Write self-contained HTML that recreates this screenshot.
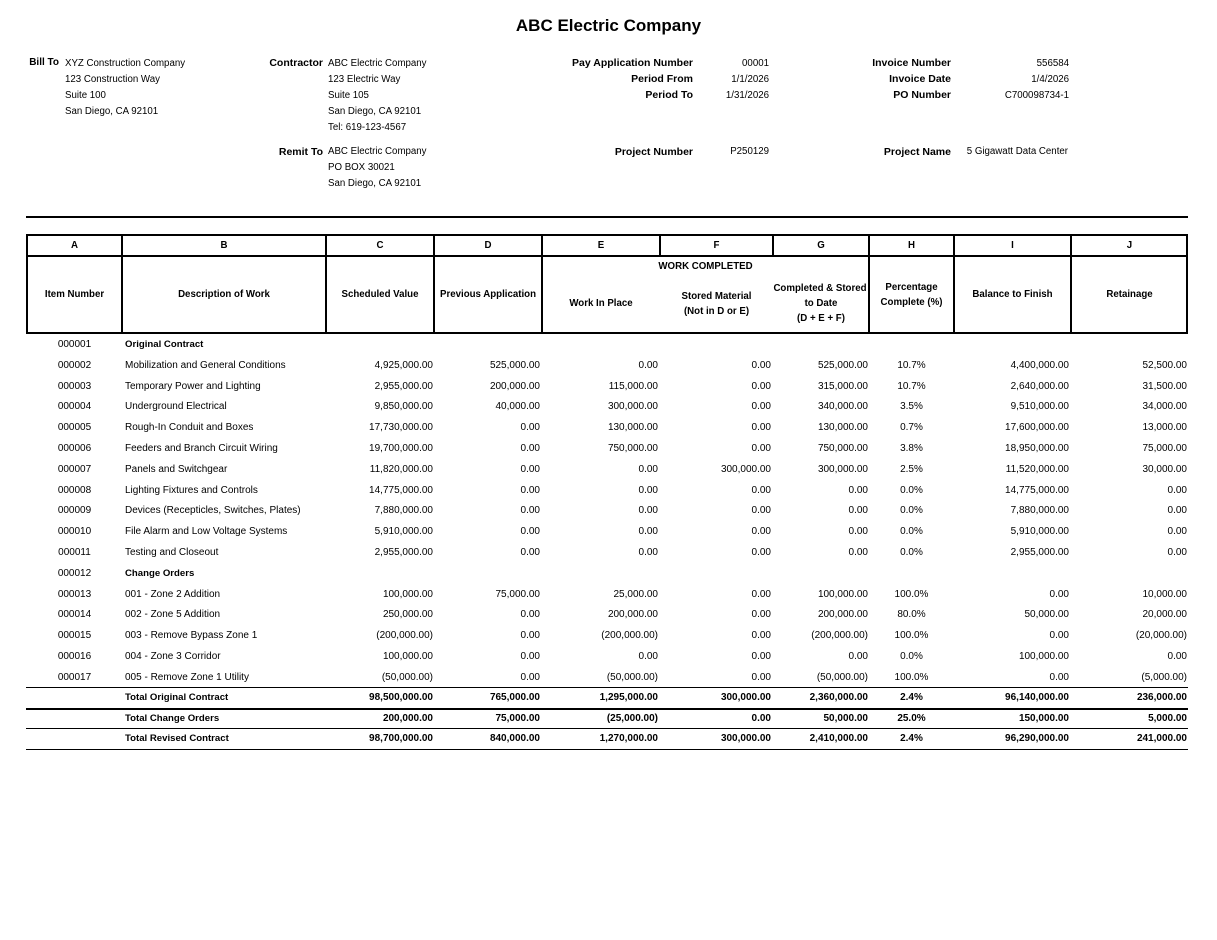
<!DOCTYPE html>
<html>
<head>
<meta charset="utf-8">
<style>
*{margin:0;padding:0;box-sizing:border-box;}
html,body{width:1217px;height:940px;background:#fff;overflow:hidden;}
body{position:relative;font-family:"Liberation Sans",Arial,sans-serif;color:#000;font-size:10px;}
.t{position:absolute;white-space:nowrap;line-height:14px;height:14px;}
.lb{font-weight:bold;font-size:10.5px;text-align:right;}
.hv{font-size:9.7px;}
.ln{position:absolute;background:#000;}
.r{position:absolute;left:0;width:1217px;height:14px;line-height:14px;}
.r span{position:absolute;top:0;white-space:nowrap;}
.a{left:27px;width:95px;text-align:center;}
.b{left:125px;}
.c{left:320px;width:113px;text-align:right;}
.d{left:430px;width:110px;text-align:right;}
.e{left:545px;width:113px;text-align:right;}
.f{left:662px;width:109px;text-align:right;}
.g{left:775px;width:93px;text-align:right;}
.h{left:869px;width:85px;text-align:center;}
.i{left:956px;width:113px;text-align:right;}
.j{left:1073px;width:114px;text-align:right;}
.bold span{font-weight:bold;}
.bold .b{font-size:9.6px;}
.hd{position:absolute;font-weight:bold;font-size:9.7px;text-align:center;line-height:15px;white-space:nowrap;}
</style>
</head>
<body>

<div class="t" style="left:0;width:1217px;top:15px;height:22px;line-height:22px;text-align:center;font-size:17px;font-weight:bold;">ABC Electric Company</div>

<!-- Bill To -->
<div class="t lb" style="left:0;width:59px;top:56px;font-size:10px;">Bill To</div>
<div class="t hv" style="left:65px;top:57px;">XYZ Construction Company</div>
<div class="t hv" style="left:65px;top:73px;">123 Construction Way</div>
<div class="t hv" style="left:65px;top:89px;">Suite 100</div>
<div class="t hv" style="left:65px;top:105px;">San Diego, CA 92101</div>

<!-- Contractor -->
<div class="t lb" style="left:200px;width:123px;top:56px;">Contractor</div>
<div class="t hv" style="left:328px;top:57px;">ABC Electric Company</div>
<div class="t hv" style="left:328px;top:73px;">123 Electric Way</div>
<div class="t hv" style="left:328px;top:89px;">Suite 105</div>
<div class="t hv" style="left:328px;top:105px;">San Diego, CA 92101</div>
<div class="t hv" style="left:328px;top:121px;">Tel: 619-123-4567</div>

<div class="t lb" style="left:200px;width:123px;top:145px;">Remit To</div>
<div class="t hv" style="left:328px;top:145px;">ABC Electric Company</div>
<div class="t hv" style="left:328px;top:161px;">PO BOX 30021</div>
<div class="t hv" style="left:328px;top:177px;">San Diego, CA 92101</div>

<!-- Pay app -->
<div class="t lb" style="left:500px;width:193px;top:56px;">Pay Application Number</div>
<div class="t lb" style="left:500px;width:193px;top:72px;">Period From</div>
<div class="t lb" style="left:500px;width:193px;top:88px;">Period To</div>
<div class="t hv" style="left:690px;width:79px;text-align:right;top:57px;">00001</div>
<div class="t hv" style="left:690px;width:79px;text-align:right;top:73px;">1/1/2026</div>
<div class="t hv" style="left:690px;width:79px;text-align:right;top:89px;">1/31/2026</div>

<div class="t lb" style="left:500px;width:193px;top:145px;">Project Number</div>
<div class="t hv" style="left:690px;width:79px;text-align:right;top:145px;">P250129</div>

<!-- Invoice -->
<div class="t lb" style="left:800px;width:151px;top:56px;">Invoice Number</div>
<div class="t lb" style="left:800px;width:151px;top:72px;">Invoice Date</div>
<div class="t lb" style="left:800px;width:151px;top:88px;">PO Number</div>
<div class="t hv" style="left:960px;width:109px;text-align:right;top:57px;">556584</div>
<div class="t hv" style="left:960px;width:109px;text-align:right;top:73px;">1/4/2026</div>
<div class="t hv" style="left:960px;width:109px;text-align:right;top:89px;">C700098734-1</div>

<div class="t lb" style="left:800px;width:151px;top:145px;">Project Name</div>
<div class="t hv" style="left:955px;width:113px;text-align:right;top:145px;">5 Gigawatt Data Center</div>

<!-- top rule -->
<div class="ln" style="left:26px;top:216px;width:1162px;height:2px;"></div>

<!-- header box -->
<div style="position:absolute;left:26px;top:234px;width:1162px;height:100px;border:2px solid #000;"></div>
<div class="ln" style="left:26px;top:255px;width:1162px;height:2px;"></div>
<div class="ln" style="left:121px;top:234px;width:2px;height:100px;"></div>
<div class="ln" style="left:325px;top:234px;width:2px;height:100px;"></div>
<div class="ln" style="left:433px;top:234px;width:2px;height:100px;"></div>
<div class="ln" style="left:541px;top:234px;width:2px;height:100px;"></div>
<div class="ln" style="left:659px;top:234px;width:2px;height:22px;"></div>
<div class="ln" style="left:772px;top:234px;width:2px;height:22px;"></div>
<div class="ln" style="left:868px;top:234px;width:2px;height:100px;"></div>
<div class="ln" style="left:953px;top:234px;width:2px;height:100px;"></div>
<div class="ln" style="left:1070px;top:234px;width:2px;height:100px;"></div>

<!-- header row 1 letters -->
<div class="hd" style="left:27px;width:95px;top:238px;">A</div>
<div class="hd" style="left:122px;width:204px;top:238px;">B</div>
<div class="hd" style="left:326px;width:108px;top:238px;">C</div>
<div class="hd" style="left:434px;width:108px;top:238px;">D</div>
<div class="hd" style="left:542px;width:118px;top:238px;">E</div>
<div class="hd" style="left:660px;width:113px;top:238px;">F</div>
<div class="hd" style="left:773px;width:96px;top:238px;">G</div>
<div class="hd" style="left:869px;width:85px;top:238px;">H</div>
<div class="hd" style="left:954px;width:117px;top:238px;">I</div>
<div class="hd" style="left:1071px;width:117px;top:238px;">J</div>

<!-- header row 2 -->
<div class="hd" style="left:27px;width:95px;top:287px;">Item Number</div>
<div class="hd" style="left:122px;width:204px;top:287px;">Description of Work</div>
<div class="hd" style="left:326px;width:108px;top:287px;">Scheduled Value</div>
<div class="hd" style="left:434px;width:108px;top:287px;">Previous Application</div>
<div class="hd" style="left:542px;width:327px;top:259px;">WORK COMPLETED</div>
<div class="hd" style="left:542px;width:118px;top:296px;">Work In Place</div>
<div class="hd" style="left:660px;width:113px;top:289px;">Stored Material</div>
<div class="hd" style="left:660px;width:113px;top:304px;">(Not in D or E)</div>
<div class="hd" style="left:771px;width:98px;top:281px;">Completed &amp; Stored</div>
<div class="hd" style="left:773px;width:96px;top:296px;">to Date</div>
<div class="hd" style="left:773px;width:96px;top:311px;">(D + E + F)</div>
<div class="hd" style="left:869px;width:85px;top:280px;">Percentage</div>
<div class="hd" style="left:869px;width:85px;top:295px;">Complete (%)</div>
<div class="hd" style="left:954px;width:117px;top:287px;">Balance to Finish</div>
<div class="hd" style="left:1071px;width:117px;top:287px;">Retainage</div>

<!-- data rows -->
<div class="r" style="top:338px;"><span class="a">000001</span><span class="b" style="font-weight:bold;font-size:9.6px;">Original Contract</span></div>

<div class="r" style="top:359px;"><span class="a">000002</span><span class="b">Mobilization and General Conditions</span><span class="c">4,925,000.00</span><span class="d">525,000.00</span><span class="e">0.00</span><span class="f">0.00</span><span class="g">525,000.00</span><span class="h">10.7%</span><span class="i">4,400,000.00</span><span class="j">52,500.00</span></div>

<div class="r" style="top:380px;"><span class="a">000003</span><span class="b">Temporary Power and Lighting</span><span class="c">2,955,000.00</span><span class="d">200,000.00</span><span class="e">115,000.00</span><span class="f">0.00</span><span class="g">315,000.00</span><span class="h">10.7%</span><span class="i">2,640,000.00</span><span class="j">31,500.00</span></div>

<div class="r" style="top:400px;"><span class="a">000004</span><span class="b">Underground Electrical</span><span class="c">9,850,000.00</span><span class="d">40,000.00</span><span class="e">300,000.00</span><span class="f">0.00</span><span class="g">340,000.00</span><span class="h">3.5%</span><span class="i">9,510,000.00</span><span class="j">34,000.00</span></div>

<div class="r" style="top:421px;"><span class="a">000005</span><span class="b">Rough-In Conduit and Boxes</span><span class="c">17,730,000.00</span><span class="d">0.00</span><span class="e">130,000.00</span><span class="f">0.00</span><span class="g">130,000.00</span><span class="h">0.7%</span><span class="i">17,600,000.00</span><span class="j">13,000.00</span></div>

<div class="r" style="top:442px;"><span class="a">000006</span><span class="b">Feeders and Branch Circuit Wiring</span><span class="c">19,700,000.00</span><span class="d">0.00</span><span class="e">750,000.00</span><span class="f">0.00</span><span class="g">750,000.00</span><span class="h">3.8%</span><span class="i">18,950,000.00</span><span class="j">75,000.00</span></div>

<div class="r" style="top:463px;"><span class="a">000007</span><span class="b">Panels and Switchgear</span><span class="c">11,820,000.00</span><span class="d">0.00</span><span class="e">0.00</span><span class="f">300,000.00</span><span class="g">300,000.00</span><span class="h">2.5%</span><span class="i">11,520,000.00</span><span class="j">30,000.00</span></div>

<div class="r" style="top:484px;"><span class="a">000008</span><span class="b">Lighting Fixtures and Controls</span><span class="c">14,775,000.00</span><span class="d">0.00</span><span class="e">0.00</span><span class="f">0.00</span><span class="g">0.00</span><span class="h">0.0%</span><span class="i">14,775,000.00</span><span class="j">0.00</span></div>

<div class="r" style="top:504px;"><span class="a">000009</span><span class="b">Devices (Recepticles, Switches, Plates)</span><span class="c">7,880,000.00</span><span class="d">0.00</span><span class="e">0.00</span><span class="f">0.00</span><span class="g">0.00</span><span class="h">0.0%</span><span class="i">7,880,000.00</span><span class="j">0.00</span></div>

<div class="r" style="top:525px;"><span class="a">000010</span><span class="b">File Alarm and Low Voltage Systems</span><span class="c">5,910,000.00</span><span class="d">0.00</span><span class="e">0.00</span><span class="f">0.00</span><span class="g">0.00</span><span class="h">0.0%</span><span class="i">5,910,000.00</span><span class="j">0.00</span></div>

<div class="r" style="top:546px;"><span class="a">000011</span><span class="b">Testing and Closeout</span><span class="c">2,955,000.00</span><span class="d">0.00</span><span class="e">0.00</span><span class="f">0.00</span><span class="g">0.00</span><span class="h">0.0%</span><span class="i">2,955,000.00</span><span class="j">0.00</span></div>

<div class="r" style="top:567px;"><span class="a">000012</span><span class="b" style="font-weight:bold;font-size:9.6px;">Change Orders</span></div>

<div class="r" style="top:588px;"><span class="a">000013</span><span class="b">001 - Zone 2 Addition</span><span class="c">100,000.00</span><span class="d">75,000.00</span><span class="e">25,000.00</span><span class="f">0.00</span><span class="g">100,000.00</span><span class="h">100.0%</span><span class="i">0.00</span><span class="j">10,000.00</span></div>

<div class="r" style="top:608px;"><span class="a">000014</span><span class="b">002 - Zone 5 Addition</span><span class="c">250,000.00</span><span class="d">0.00</span><span class="e">200,000.00</span><span class="f">0.00</span><span class="g">200,000.00</span><span class="h">80.0%</span><span class="i">50,000.00</span><span class="j">20,000.00</span></div>

<div class="r" style="top:629px;"><span class="a">000015</span><span class="b">003 - Remove Bypass Zone 1</span><span class="c">(200,000.00)</span><span class="d">0.00</span><span class="e">(200,000.00)</span><span class="f">0.00</span><span class="g">(200,000.00)</span><span class="h">100.0%</span><span class="i">0.00</span><span class="j">(20,000.00)</span></div>

<div class="r" style="top:650px;"><span class="a">000016</span><span class="b">004 - Zone 3 Corridor</span><span class="c">100,000.00</span><span class="d">0.00</span><span class="e">0.00</span><span class="f">0.00</span><span class="g">0.00</span><span class="h">0.0%</span><span class="i">100,000.00</span><span class="j">0.00</span></div>

<div class="r" style="top:671px;"><span class="a">000017</span><span class="b">005 - Remove Zone 1 Utility</span><span class="c">(50,000.00)</span><span class="d">0.00</span><span class="e">(50,000.00)</span><span class="f">0.00</span><span class="g">(50,000.00)</span><span class="h">100.0%</span><span class="i">0.00</span><span class="j">(5,000.00)</span></div>

<div class="ln" style="left:26px;top:687px;width:1162px;height:1px;"></div>

<div class="r bold" style="top:691px;"><span class="b">Total Original Contract</span><span class="c">98,500,000.00</span><span class="d">765,000.00</span><span class="e">1,295,000.00</span><span class="f">300,000.00</span><span class="g">2,360,000.00</span><span class="h">2.4%</span><span class="i">96,140,000.00</span><span class="j">236,000.00</span></div>

<div class="ln" style="left:26px;top:708px;width:1162px;height:2px;"></div>

<div class="r bold" style="top:712px;"><span class="b">Total Change Orders</span><span class="c">200,000.00</span><span class="d">75,000.00</span><span class="e">(25,000.00)</span><span class="f">0.00</span><span class="g">50,000.00</span><span class="h">25.0%</span><span class="i">150,000.00</span><span class="j">5,000.00</span></div>

<div class="ln" style="left:26px;top:728px;width:1162px;height:1px;"></div>

<div class="r bold" style="top:732px;"><span class="b">Total Revised Contract</span><span class="c">98,700,000.00</span><span class="d">840,000.00</span><span class="e">1,270,000.00</span><span class="f">300,000.00</span><span class="g">2,410,000.00</span><span class="h">2.4%</span><span class="i">96,290,000.00</span><span class="j">241,000.00</span></div>

<div class="ln" style="left:26px;top:749px;width:1162px;height:1px;"></div>

</body>
</html>
